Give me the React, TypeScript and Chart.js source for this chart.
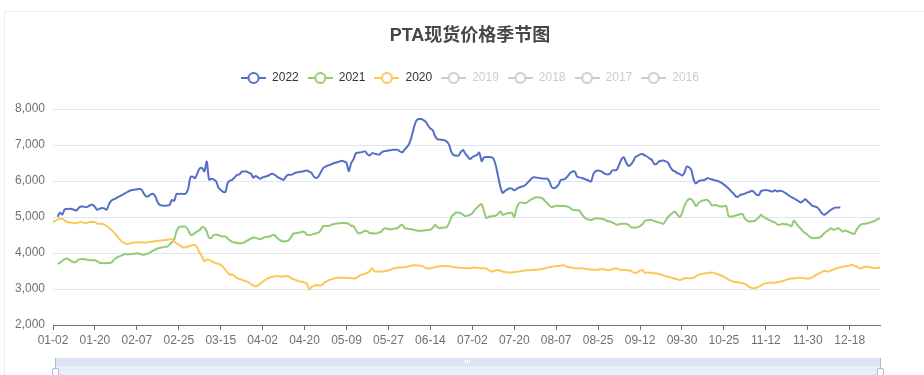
import React, { useEffect, useRef } from 'react';
import { Chart, registerables } from 'chart.js';

Chart.register(...registerables);

const FONT = '"Liberation Sans", Arial, "Noto Sans CJK SC", sans-serif';
const TITLE = 'PTA现货价格季节图';

const SERIES_NAMES = ['2022', '2021', '2020', '2019', '2018', '2017', '2016'];
const SERIES_COLORS = ['#5470c6', '#91cc75', '#fac858', '#cccccc', '#cccccc', '#cccccc', '#cccccc'];
const SERIES_ACTIVE = [true, true, true, false, false, false, false];

const MONTH_LENGTHS = [31, 28, 31, 30, 31, 30, 31, 31, 30, 31, 30, 31];
const CLOSED_DATES = ['01-01', '05-01', '10-01', '10-02', '10-03', '10-04', '10-05', '10-06', '10-07'];
const CATEGORIES: string[] = [];
MONTH_LENGTHS.forEach((n, m) => {
  for (let d = 1; d <= n; d++) {
    const s = `${String(m + 1).padStart(2, '0')}-${String(d).padStart(2, '0')}`;
    if (!CLOSED_DATES.includes(s)) CATEGORIES.push(s);
  }
});

const TICK_LABELS = ['01-02', '01-20', '02-07', '02-25', '03-15', '04-02', '04-20', '05-09', '05-27', '06-14',
  '07-02', '07-20', '08-07', '08-25', '09-12', '09-30', '10-25', '11-12', '11-30', '12-18'];

const Y_MIN = 2000;
const Y_MAX = 8000;
const Y_STEP = 1000;

const S2022: (number | null)[] = [
  null, null, 5010, 5120, 5070, 5210, 5220, 5230, 5220, 5200,
  5180, 5250, 5290, 5290, 5270, 5290, 5330, 5340, 5280, 5200,
  5230, 5250, 5240, 5200, 5350, 5450, 5490, 5520, 5560, 5590,
  5620, 5660, 5700, 5730, 5750, 5760, 5770, 5775, 5760, 5650,
  5570, 5580, 5630, 5640, 5560, 5400, 5330, 5320, 5310, 5320,
  5330, 5470, 5450, 5640, 5640, 5645, 5640, 5650, 5780, 6100,
  6120, 6080, 6220, 6350, 6360, 6270, 6540, 6040, 6060, 6040,
  5990, 5820, 5750, 5700, 5690, 5950, 6010, 6040, 6100, 6170,
  6180, 6260, 6265, 6265, 6230, 6200, 6090, 6140, 6100, 6060,
  6100, 6120, 6140, 6170, 6200, 6180, 6130, 6090, 6060, 6030,
  6120, 6175, 6170, 6190, 6230, 6240, 6255, 6265, 6280, 6290,
  6260, 6220, 6120, 6080, 6130, 6250, 6360, 6400, 6430, 6450,
  6480, 6505, 6520, 6540, 6560, 6540, 6500, 6270, 6500, 6600,
  6770, 6785, 6795, 6810, 6820, 6740, 6710, 6775, 6760, 6745,
  6730, 6790, 6825, 6835, 6850, 6855, 6865, 6870, 6868, 6820,
  6800, 6880, 6950, 7050, 7250, 7500, 7680, 7720, 7720, 7690,
  7640, 7540, 7460, 7410, 7250, 7160, 7150, 7145, 7130, 7100,
  7010, 6800, 6720, 6710, 6700, 6800, 6860, 6760, 6680, 6610,
  6660, 6700, 6720, 6790, 6550, 6650, 6665, 6665, 6660, 6630,
  6450, 6150, 5850, 5670, 5720, 5765, 5800, 5790, 5740, 5780,
  5820, 5840, 5860, 5900, 5970, 6040, 6100, 6100, 6090, 6080,
  6070, 6060, 6070, 6000, 5840, 5800, 5830, 5900, 6030, 6040,
  6070, 6140, 6220, 6265, 6260, 6120, 6100, 6085, 6060, 6035,
  6010, 5990, 6200, 6275, 6290, 6280, 6240, 6200, 6180, 6200,
  6290, 6300, 6310, 6450, 6600, 6660, 6520, 6420, 6450, 6540,
  6660, 6700, 6740, 6750, 6710, 6680, 6630, 6590, 6480, 6470,
  6540, 6560, 6570, 6545, 6510, 6380, 6300, 6265, 6220, 6200,
  6150, 6220, 6400, 6380, 6300, 6040, 5930, 5990, 6015, 6020,
  6040, 6080, 6060, 6040, 6020, 6005, 5980, 5950, 5900, 5850,
  5790, 5720, 5660, 5580, 5560, 5610, 5630, 5650, 5680, 5700,
  5730, 5690, 5620, 5610, 5720, 5740, 5750, 5740, 5720, 5710,
  5740, 5710, 5730, 5720, 5680, 5640, 5590, 5550, 5520, 5480,
  5440, 5405, 5450, 5490, 5430, 5370, 5310, 5290, 5270, 5200,
  5110, 5060, 5100, 5150, 5200, 5240, 5260, 5265, 5265, null,
  null, null, null, null, null, null, null, null, null, null,
  null, null, null, null, null, null,
];

const S2021: (number | null)[] = [
  null, null, 3700, 3730, 3780, 3830, 3850, 3810, 3770, 3740,
  3760, 3820, 3830, 3830, 3820, 3810, 3800, 3800, 3800, 3770,
  3730, 3720, 3715, 3720, 3720, 3730, 3800, 3860, 3890, 3920,
  3950, 3975, 3960, 3965, 3975, 3980, 3990, 3980, 3955, 3950,
  3975, 3990, 4030, 4065, 4100, 4130, 4145, 4160, 4170, 4175,
  4230, 4300, 4370, 4600, 4710, 4735, 4735, 4730, 4640, 4510,
  4510, 4560, 4600, 4640, 4720, 4700, 4600, 4420, 4420, 4500,
  4505, 4500, 4470, 4455, 4460, 4400, 4345, 4310, 4290, 4280,
  4270, 4275, 4290, 4330, 4365, 4400, 4430, 4420, 4400, 4380,
  4410, 4440, 4450, 4460, 4490, 4500, 4430, 4380, 4340, 4320,
  4330, 4345, 4420, 4530, 4550, 4560, 4570, 4590, 4580, 4510,
  4500, 4510, 4530, 4550, 4565, 4640, 4740, 4755, 4750, 4770,
  4800, 4810, 4820, 4825, 4830, 4830, 4825, 4810, 4755, 4750,
  4640, 4550, 4555, 4590, 4620, 4600, 4555, 4550, 4545, 4545,
  4570, 4600, 4680, 4680, 4665, 4660, 4670, 4685, 4690, 4760,
  4780, 4690, 4675, 4665, 4660, 4640, 4625, 4614, 4620, 4625,
  4630, 4640, 4650, 4700, 4780, 4720, 4690, 4700, 4710, 4716,
  4830, 5000, 5070, 5125, 5120, 5110, 5060, 5030, 5040, 5060,
  5100, 5200, 5260, 5320, 5360, 5170, 4970, 5000, 5020, 5030,
  5035, 5080, 5150, 5060, 5080, 5105, 5110, 5115, 5000, 5250,
  5380, 5400, 5395, 5385, 5430, 5475, 5510, 5540, 5550, 5540,
  5525, 5460, 5390, 5320, 5275, 5290, 5310, 5310, 5305, 5310,
  5300, 5290, 5250, 5200, 5190, 5185, 5180, 5080, 5000, 4940,
  4930, 4920, 4940, 4965, 4960, 4950, 4945, 4920, 4890, 4875,
  4850, 4820, 4785, 4800, 4810, 4810, 4810, 4780, 4720, 4710,
  4705, 4720, 4750, 4800, 4890, 4910, 4920, 4915, 4890, 4870,
  4850, 4830, 4810, 4900, 5000, 5060, 5110, 5150, 5070, 5000,
  5100, 5300, 5430, 5500, 5490, 5420, 5300, 5380, 5430, 5460,
  5475, 5470, 5400, 5320, 5335, 5320, 5300, 5295, 5300, 5310,
  5020, 5015, 5020, 5040, 5060, 5075, 5085, 4950, 4900, 4875,
  4880, 4890, 4930, 4995, 5060, 5000, 4965, 4930, 4900, 4870,
  4845, 4790, 4785, 4810, 4800, 4800, 4770, 4740, 4900, 4820,
  4740, 4680, 4600, 4550, 4500, 4440, 4410, 4415, 4420, 4430,
  4470, 4550, 4596, 4640, 4690, 4645, 4660, 4690, 4650, 4596,
  4624, 4600, 4568, 4550, 4531, 4650, 4740, 4800, 4810, 4815,
  4830, 4855, 4875, 4900, 4940, 4960,
];

const S2020: (number | null)[] = [
  4850, 4890, 4930, 4960, 4950, 4900, 4860, 4850, 4840, 4830,
  4830, 4850, 4860, 4850, 4830, 4850, 4860, 4860, 4860, 4820,
  4810, 4810, 4790, 4750, 4700, 4640, 4580, 4510, 4430, 4350,
  4300, 4260, 4250, 4270, 4280, 4290, 4300, 4290, 4300, 4290,
  4290, 4300, 4310, 4320, 4330, 4340, 4345, 4350, 4360, 4365,
  4375, 4385, 4320, 4270, 4230, 4190, 4150, 4160, 4180, 4200,
  4220, 4220, 4140, 4000, 3900, 3770, 3820, 3810, 3780, 3740,
  3710, 3700, 3670, 3610, 3530, 3460, 3390, 3400, 3350, 3300,
  3280, 3260, 3230, 3210, 3180, 3130, 3110, 3070, 3100, 3150,
  3200, 3250, 3290, 3320, 3340, 3350, 3360, 3355, 3350, 3345,
  3360, 3360, 3300, 3280, 3250, 3230, 3210, 3200, 3180, 3150,
  2990, 3060, 3090, 3110, 3100, 3100, 3150, 3200, 3230, 3260,
  3280, 3300, 3310, 3315, 3315, 3315, 3310, 3305, 3300, 3295,
  3300, 3340, 3390, 3410, 3430, 3455, 3500, 3575, 3490, 3485,
  3485, 3480, 3490, 3505, 3515, 3540, 3570, 3585, 3595, 3600,
  3605, 3605, 3620, 3635, 3650, 3660, 3655, 3650, 3645, 3620,
  3580, 3575, 3570, 3590, 3610, 3620, 3630, 3640, 3640, 3635,
  3630, 3620, 3610, 3600, 3595, 3590, 3580, 3575, 3575, 3575,
  3590, 3595, 3590, 3580, 3575, 3575, 3570, 3520, 3485, 3500,
  3510, 3525, 3510, 3485, 3470, 3460, 3455, 3460, 3470, 3475,
  3490, 3500, 3510, 3515, 3520, 3525, 3530, 3535, 3540, 3547,
  3555, 3570, 3590, 3605, 3620, 3630, 3635, 3640, 3650, 3659,
  3640, 3610, 3600, 3590, 3575, 3575, 3575, 3575, 3565, 3555,
  3547, 3540, 3535, 3530, 3540, 3547, 3547, 3540, 3530, 3530,
  3550, 3570, 3570, 3545, 3530, 3530, 3525, 3520, 3500, 3470,
  3440, 3470, 3510, 3529, 3455, 3455, 3450, 3450, 3440, 3430,
  3418, 3400, 3380, 3362, 3340, 3325, 3305, 3285, 3270, 3250,
  3270, 3297, 3300, 3300, 3300, 3310, 3350, 3390, 3410, 3425,
  3436, 3445, 3450, 3455, 3440, 3420, 3390, 3370, 3340, 3300,
  3260, 3230, 3204, 3195, 3185, 3176, 3160, 3140, 3100, 3050,
  3030, 3018, 3040, 3065, 3100, 3140, 3160, 3175, 3176, 3176,
  3180, 3190, 3200, 3215, 3240, 3260, 3280, 3290, 3295, 3297,
  3310, 3310, 3300, 3295, 3295, 3297, 3330, 3362, 3410, 3440,
  3470, 3500, 3495, 3483, 3520, 3540, 3570, 3585, 3603, 3615,
  3630, 3640, 3655, 3665, 3650, 3620, 3580, 3580, 3610, 3620,
  3615, 3600, 3590, 3580, 3590, 3600,
];

const SERIES_DATA: (number | null)[][] = [S2022, S2021, S2020, [], [], [], []];

function makeLegendIcon(color: string): HTMLCanvasElement {
  const c = document.createElement('canvas');
  c.width = 25;
  c.height = 14;
  const g = c.getContext('2d')!;
  g.strokeStyle = color;
  g.lineWidth = 2;
  g.beginPath();
  g.moveTo(0, 7);
  g.lineTo(25, 7);
  g.stroke();
  g.beginPath();
  g.arc(12.5, 7, 5, 0, Math.PI * 2);
  g.fillStyle = '#ffffff';
  g.fill();
  g.stroke();
  return c;
}

export default function App() {
  const ref = useRef<HTMLCanvasElement | null>(null);

  useEffect(() => {
    const canvas = ref.current;
    if (!canvas) return;
    const icons = SERIES_COLORS.map((c) => makeLegendIcon(c));

    const legendSpacer = {
      id: 'legendSpacer',
      beforeInit(chart: any) {
        const legend = chart.legend;
        if (!legend) return;
        const orig = legend.fit;
        legend.fit = function () {
          orig.call(this);
          this.height += 15;
        };
      },
    };

    const chart = new Chart(canvas, {
      type: 'line',
      data: {
        labels: CATEGORIES,
        datasets: SERIES_NAMES.map((name, i) => ({
          label: name,
          data: SERIES_DATA[i],
          borderColor: SERIES_COLORS[i],
          backgroundColor: SERIES_COLORS[i],
          borderWidth: 2,
          pointRadius: 0,
          pointHoverRadius: 0,
          tension: 0.3,
          fill: false,
          spanGaps: true,
          order: SERIES_NAMES.length - i,
        })),
      },
      options: {
        animation: false,
        responsive: false,
        devicePixelRatio: 1,
        events: [],
        layout: { padding: { left: 0, right: 0, top: 0, bottom: 24.6 } },
        plugins: {
          title: {
            display: true,
            text: TITLE,
            color: '#464646',
            font: { family: FONT, size: 18, weight: 'bold' },
            padding: { top: 25, bottom: 16.4 },
          },
          legend: {
            display: true,
            position: 'top',
            labels: {
              usePointStyle: true,
              pointStyleWidth: 25,
              boxHeight: 12,
              padding: 9,
              color: '#333333',
              font: { family: FONT, size: 12 },
              generateLabels: (ch: any) =>
                ch.data.datasets.map((ds: any, i: number) => ({
                  text: ds.label,
                  fillStyle: 'transparent',
                  strokeStyle: SERIES_COLORS[i],
                  lineWidth: 0,
                  hidden: false,
                  pointStyle: icons[i],
                  fontColor: SERIES_ACTIVE[i] ? '#333333' : '#cccccc',
                  datasetIndex: i,
                })),
            },
          },
          tooltip: { enabled: false },
        },
        scales: {
          x: {
            type: 'category',
            offset: false,
            grid: {
              display: true,
              drawOnChartArea: false,
              drawTicks: true,
              tickLength: 5,
              color: '#6E7079',
              offset: false,
            },
            border: { display: true, color: '#6E7079', width: 1 },
            ticks: {
              autoSkip: false,
              maxRotation: 0,
              minRotation: 0,
              padding: 3,
              color: '#6E7079',
              font: { family: FONT, size: 12 },
            },
            afterBuildTicks: (scale: any) => {
              scale.ticks = scale.ticks.filter((t: any) => TICK_LABELS.includes(CATEGORIES[t.value]));
            },
          },
          y: {
            position: 'left',
            min: Y_MIN,
            max: Y_MAX,
            grid: { color: '#E0E6F1', drawTicks: false, lineWidth: 1 },
            border: { display: false },
            ticks: {
              stepSize: Y_STEP,
              padding: 8,
              color: '#6E7079',
              font: { family: FONT, size: 12 },
              callback: (v: any) => Number(v).toLocaleString('en-US'),
            },
            afterFit: (s: any) => {
              s.width = 53;
            },
          },
          yRight: {
            position: 'right',
            display: true,
            grid: { display: false, drawTicks: false },
            border: { display: false },
            ticks: { display: false },
            afterFit: (s: any) => {
              s.width = 60;
            },
          },
        },
      },
      plugins: [legendSpacer],
    } as any);

    return () => {
      chart.destroy();
    };
  }, []);

  return (
    <div
      style={{
        position: 'fixed',
        left: 0,
        top: 0,
        width: 924,
        height: 375,
        overflow: 'hidden',
        background: '#ffffff',
      }}
    >
      <div
        style={{
          position: 'absolute',
          left: 4,
          top: 11,
          width: 1000,
          height: 1000,
          border: '1px solid #ececec',
        }}
      />
      <canvas
        ref={ref}
        width={940}
        height={375}
        style={{ position: 'absolute', left: 0, top: 0, width: 940, height: 375 }}
      />
      {/* data-zoom slider */}
      <div style={{ position: 'absolute', left: 55, top: 358, width: 825, height: 8, background: '#dde4f5' }} />
      <div style={{ position: 'absolute', left: 55, top: 366, width: 825, height: 12, background: '#e8eefb' }} />
      <div style={{ position: 'absolute', left: 465, top: 360, width: 1, height: 3, background: '#ffffff' }} />
      <div style={{ position: 'absolute', left: 467, top: 360, width: 1, height: 3, background: '#ffffff' }} />
      <div style={{ position: 'absolute', left: 469, top: 360, width: 1, height: 3, background: '#ffffff' }} />
      <div style={{ position: 'absolute', left: 55, top: 358, width: 1, height: 10, background: '#ACB8D1' }} />
      <div
        style={{
          position: 'absolute',
          left: 52,
          top: 368,
          width: 5,
          height: 14,
          border: '1px solid #ACB8D1',
          borderRadius: 2,
          background: '#ffffff',
        }}
      />
      <div style={{ position: 'absolute', left: 880, top: 358, width: 1, height: 10, background: '#ACB8D1' }} />
      <div
        style={{
          position: 'absolute',
          left: 877,
          top: 368,
          width: 5,
          height: 14,
          border: '1px solid #ACB8D1',
          borderRadius: 2,
          background: '#ffffff',
        }}
      />
    </div>
  );
}
